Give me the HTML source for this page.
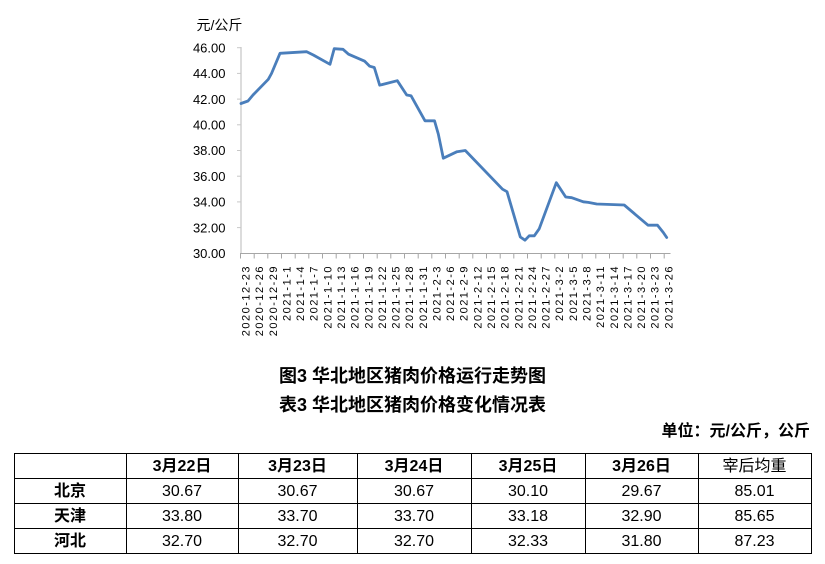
<!DOCTYPE html>
<html>
<head>
<meta charset="utf-8">
<style>
  html,body{margin:0;padding:0;background:#fff;}
  body{width:825px;height:564px;position:relative;overflow:hidden;font-family:"Liberation Sans","Noto Sans CJK SC",sans-serif;color:#000;}
  .abs{position:absolute;}
  .title{position:absolute;left:0;width:825px;text-align:center;font-weight:bold;font-size:18px;line-height:18px;white-space:nowrap;}
  .unit{position:absolute;right:15px;top:424px;font-weight:bold;font-size:16px;line-height:16px;white-space:nowrap;}
  .cell{position:absolute;height:25px;line-height:25px;text-align:center;font-size:16px;white-space:nowrap;}
  .b{font-weight:bold;}
  .hl{position:absolute;height:1px;background:#000;left:14px;width:798px;}
  .vl{position:absolute;width:1px;background:#000;top:453px;height:101px;}
</style>
</head>
<body>
<svg class="abs" style="left:0;top:0" width="825" height="360" viewBox="0 0 825 360">
  <g font-family="Liberation Sans, Noto Sans CJK SC, sans-serif">
    <text x="196.5" y="30" font-size="14" fill="#000">元/公斤</text>
    <!-- y axis -->
    <line x1="241" y1="47" x2="241" y2="253.5" stroke="#d0d0d0" stroke-width="1.5"/>
    <g stroke="#c8c8c8" stroke-width="1">
      <line x1="237" y1="47.7" x2="241" y2="47.7"/>
      <line x1="237" y1="73.4" x2="241" y2="73.4"/>
      <line x1="237" y1="99.1" x2="241" y2="99.1"/>
      <line x1="237" y1="124.8" x2="241" y2="124.8"/>
      <line x1="237" y1="150.5" x2="241" y2="150.5"/>
      <line x1="237" y1="176.2" x2="241" y2="176.2"/>
      <line x1="237" y1="201.9" x2="241" y2="201.9"/>
      <line x1="237" y1="227.6" x2="241" y2="227.6"/>
    </g>
    <g font-size="13" text-anchor="end" fill="#000">
      <text x="225.5" y="52.4">46.00</text>
      <text x="225.5" y="78.1">44.00</text>
      <text x="225.5" y="103.8">42.00</text>
      <text x="225.5" y="129.5">40.00</text>
      <text x="225.5" y="155.2">38.00</text>
      <text x="225.5" y="180.9">36.00</text>
      <text x="225.5" y="206.6">34.00</text>
      <text x="225.5" y="232.3">32.00</text>
      <text x="225.5" y="258.0">30.00</text>
    </g>
    <!-- x axis -->
    <line x1="240" y1="253.5" x2="670.5" y2="253.5" stroke="#a6a6a6" stroke-width="1"/>
    <g stroke="#a6a6a6" stroke-width="1" id="xt">
      <line x1="240.5" y1="253.5" x2="240.5" y2="258.5"/>
      <line x1="254.2" y1="253.5" x2="254.2" y2="258.5"/>
      <line x1="267.8" y1="253.5" x2="267.8" y2="258.5"/>
      <line x1="281.5" y1="253.5" x2="281.5" y2="258.5"/>
      <line x1="295.2" y1="253.5" x2="295.2" y2="258.5"/>
      <line x1="308.8" y1="253.5" x2="308.8" y2="258.5"/>
      <line x1="322.5" y1="253.5" x2="322.5" y2="258.5"/>
      <line x1="336.2" y1="253.5" x2="336.2" y2="258.5"/>
      <line x1="349.8" y1="253.5" x2="349.8" y2="258.5"/>
      <line x1="363.5" y1="253.5" x2="363.5" y2="258.5"/>
      <line x1="377.2" y1="253.5" x2="377.2" y2="258.5"/>
      <line x1="390.8" y1="253.5" x2="390.8" y2="258.5"/>
      <line x1="404.5" y1="253.5" x2="404.5" y2="258.5"/>
      <line x1="418.2" y1="253.5" x2="418.2" y2="258.5"/>
      <line x1="431.8" y1="253.5" x2="431.8" y2="258.5"/>
      <line x1="445.5" y1="253.5" x2="445.5" y2="258.5"/>
      <line x1="459.2" y1="253.5" x2="459.2" y2="258.5"/>
      <line x1="472.8" y1="253.5" x2="472.8" y2="258.5"/>
      <line x1="486.5" y1="253.5" x2="486.5" y2="258.5"/>
      <line x1="500.2" y1="253.5" x2="500.2" y2="258.5"/>
      <line x1="513.8" y1="253.5" x2="513.8" y2="258.5"/>
      <line x1="527.5" y1="253.5" x2="527.5" y2="258.5"/>
      <line x1="541.2" y1="253.5" x2="541.2" y2="258.5"/>
      <line x1="554.8" y1="253.5" x2="554.8" y2="258.5"/>
      <line x1="568.5" y1="253.5" x2="568.5" y2="258.5"/>
      <line x1="582.2" y1="253.5" x2="582.2" y2="258.5"/>
      <line x1="595.8" y1="253.5" x2="595.8" y2="258.5"/>
      <line x1="609.5" y1="253.5" x2="609.5" y2="258.5"/>
      <line x1="623.2" y1="253.5" x2="623.2" y2="258.5"/>
      <line x1="636.8" y1="253.5" x2="636.8" y2="258.5"/>
      <line x1="650.5" y1="253.5" x2="650.5" y2="258.5"/>
      <line x1="664.2" y1="253.5" x2="664.2" y2="258.5"/>
    </g>
    <g font-size="11" letter-spacing="1.5" text-anchor="end" fill="#000">
      <text transform="translate(245.5,265) rotate(-90)" dy="0.36em">2020-12-23</text>
      <text transform="translate(259.1,265) rotate(-90)" dy="0.36em">2020-12-26</text>
      <text transform="translate(272.8,265) rotate(-90)" dy="0.36em">2020-12-29</text>
      <text transform="translate(286.4,265) rotate(-90)" dy="0.36em">2021-1-1</text>
      <text transform="translate(300.1,265) rotate(-90)" dy="0.36em">2021-1-4</text>
      <text transform="translate(313.7,265) rotate(-90)" dy="0.36em">2021-1-7</text>
      <text transform="translate(327.3,265) rotate(-90)" dy="0.36em">2021-1-10</text>
      <text transform="translate(341.0,265) rotate(-90)" dy="0.36em">2021-1-13</text>
      <text transform="translate(354.6,265) rotate(-90)" dy="0.36em">2021-1-16</text>
      <text transform="translate(368.3,265) rotate(-90)" dy="0.36em">2021-1-19</text>
      <text transform="translate(381.9,265) rotate(-90)" dy="0.36em">2021-1-22</text>
      <text transform="translate(395.5,265) rotate(-90)" dy="0.36em">2021-1-25</text>
      <text transform="translate(409.2,265) rotate(-90)" dy="0.36em">2021-1-28</text>
      <text transform="translate(422.8,265) rotate(-90)" dy="0.36em">2021-1-31</text>
      <text transform="translate(436.5,265) rotate(-90)" dy="0.36em">2021-2-3</text>
      <text transform="translate(450.1,265) rotate(-90)" dy="0.36em">2021-2-6</text>
      <text transform="translate(463.7,265) rotate(-90)" dy="0.36em">2021-2-9</text>
      <text transform="translate(477.4,265) rotate(-90)" dy="0.36em">2021-2-12</text>
      <text transform="translate(491.0,265) rotate(-90)" dy="0.36em">2021-2-15</text>
      <text transform="translate(504.7,265) rotate(-90)" dy="0.36em">2021-2-18</text>
      <text transform="translate(518.3,265) rotate(-90)" dy="0.36em">2021-2-21</text>
      <text transform="translate(531.9,265) rotate(-90)" dy="0.36em">2021-2-24</text>
      <text transform="translate(545.6,265) rotate(-90)" dy="0.36em">2021-2-27</text>
      <text transform="translate(559.2,265) rotate(-90)" dy="0.36em">2021-3-2</text>
      <text transform="translate(572.9,265) rotate(-90)" dy="0.36em">2021-3-5</text>
      <text transform="translate(586.5,265) rotate(-90)" dy="0.36em">2021-3-8</text>
      <text transform="translate(600.1,265) rotate(-90)" dy="0.36em">2021-3-11</text>
      <text transform="translate(613.8,265) rotate(-90)" dy="0.36em">2021-3-14</text>
      <text transform="translate(627.4,265) rotate(-90)" dy="0.36em">2021-3-17</text>
      <text transform="translate(641.1,265) rotate(-90)" dy="0.36em">2021-3-20</text>
      <text transform="translate(654.7,265) rotate(-90)" dy="0.36em">2021-3-23</text>
      <text transform="translate(668.3,265) rotate(-90)" dy="0.36em">2021-3-26</text>
    </g>
  </g>
  <polyline fill="none" stroke="#4a7ebb" stroke-width="2.8" stroke-linejoin="round" stroke-linecap="round"
    points="241,103.5 248,101 253,95 268.3,79.3 271.5,73.5 280,53.3 306.7,51.7 313.3,55 330,64.3 334.2,48.7 343,49.3 348.5,54.2 364.7,61.2 369.7,66.2 374.3,67.5 379.7,85.2 397.3,80.7 406.7,95 411,95.7 425,120.8 434.5,120.8 438.3,134 443.3,158.2 457,151.7 465.3,150.5 502.5,189.2 507,191.7 520.3,237 525,240.2 529.2,235.8 534.3,235.8 539.2,228.8 556.3,182.7 565.7,197 571.7,197.7 583.3,201.8 588.3,202.4 596.7,204 624.2,205 648,225.2 657.5,225.2 663.3,232.5 666.7,237.5"/>
</svg>

<div class="title" style="top:367px;">图3 华北地区猪肉价格运行走势图</div>
<div class="title" style="top:396px;">表3 华北地区猪肉价格变化情况表</div>
<div class="unit">单位：元/公斤，公斤</div>

<!-- table grid lines -->
<div class="hl" style="top:453px"></div>
<div class="hl" style="top:478px"></div>
<div class="hl" style="top:503px"></div>
<div class="hl" style="top:528px"></div>
<div class="hl" style="top:553px"></div>
<div class="vl" style="left:14px"></div>
<div class="vl" style="left:126px"></div>
<div class="vl" style="left:238px"></div>
<div class="vl" style="left:357px"></div>
<div class="vl" style="left:471px"></div>
<div class="vl" style="left:585px"></div>
<div class="vl" style="left:698px"></div>
<div class="vl" style="left:811px"></div>

<!-- header row -->
<div class="cell b" style="left:126px;width:112px;top:453.5px">3月22日</div>
<div class="cell b" style="left:238px;width:119px;top:453.5px">3月23日</div>
<div class="cell b" style="left:357px;width:114px;top:453.5px">3月24日</div>
<div class="cell b" style="left:471px;width:114px;top:453.5px">3月25日</div>
<div class="cell b" style="left:585px;width:113px;top:453.5px">3月26日</div>
<div class="cell" style="left:698px;width:113px;top:453.5px">宰后均重</div>

<!-- 北京 -->
<div class="cell b" style="left:14px;width:112px;top:478.5px">北京</div>
<div class="cell" style="left:126px;width:112px;top:478.5px">30.67</div>
<div class="cell" style="left:238px;width:119px;top:478.5px">30.67</div>
<div class="cell" style="left:357px;width:114px;top:478.5px">30.67</div>
<div class="cell" style="left:471px;width:114px;top:478.5px">30.10</div>
<div class="cell" style="left:585px;width:113px;top:478.5px">29.67</div>
<div class="cell" style="left:698px;width:113px;top:478.5px">85.01</div>

<!-- 天津 -->
<div class="cell b" style="left:14px;width:112px;top:503.5px">天津</div>
<div class="cell" style="left:126px;width:112px;top:503.5px">33.80</div>
<div class="cell" style="left:238px;width:119px;top:503.5px">33.70</div>
<div class="cell" style="left:357px;width:114px;top:503.5px">33.70</div>
<div class="cell" style="left:471px;width:114px;top:503.5px">33.18</div>
<div class="cell" style="left:585px;width:113px;top:503.5px">32.90</div>
<div class="cell" style="left:698px;width:113px;top:503.5px">85.65</div>

<!-- 河北 -->
<div class="cell b" style="left:14px;width:112px;top:528.5px">河北</div>
<div class="cell" style="left:126px;width:112px;top:528.5px">32.70</div>
<div class="cell" style="left:238px;width:119px;top:528.5px">32.70</div>
<div class="cell" style="left:357px;width:114px;top:528.5px">32.70</div>
<div class="cell" style="left:471px;width:114px;top:528.5px">32.33</div>
<div class="cell" style="left:585px;width:113px;top:528.5px">31.80</div>
<div class="cell" style="left:698px;width:113px;top:528.5px">87.23</div>
</body>
</html>
